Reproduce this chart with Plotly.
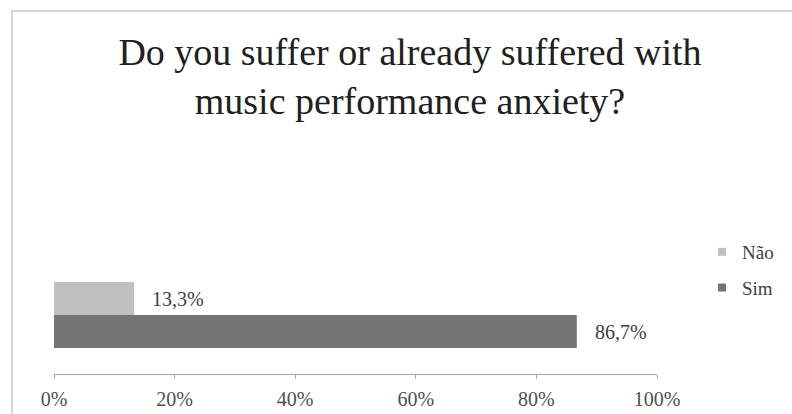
import plotly.graph_objects as go

# Survey answers and their shares (%)
answers = ["Sim", "Não"]
shares = [86.7, 13.3]
colors = ["#747474", "#c0c0c0"]
tick_values = [0, 20, 40, 60, 80, 100]
tick_labels = ["0%", "20%", "40%", "60%", "80%", "100%"]
title_text = "Do you suffer or already suffered with<br>music performance anxiety?"

W, H = 792, 414
L, R, T, B = 54, 135, 256, 40
plot_w = W - L - R
plot_h = H - T - B

serif = "Liberation Serif, Times New Roman, serif"

fig = go.Figure()

# bars: one row per answer, stacked on a numeric axis so they touch
for i, (ans, val, col) in enumerate(zip(answers, shares, colors)):
    fig.add_trace(go.Bar(
        x=[val], y=[i], orientation="h", width=1.0,
        marker=dict(color=col, line=dict(width=0)),
        showlegend=False, hoverinfo="x",
    ))
    fig.add_annotation(
        x=val, y=i, xref="x", yref="y",
        text=f"{val:.1f}%".replace(".", ","),
        showarrow=False, xanchor="left", yanchor="middle", xshift=16,
        font=dict(family=serif, size=20, color="#404040"),
    )

# legend entries with small square swatches, Não listed first
for ans, col in [("Não", colors[1]), ("Sim", colors[0])]:
    fig.add_trace(go.Scatter(
        x=[None], y=[None], mode="markers", name=ans,
        marker=dict(symbol="square", size=8, color=col),
        legendgroup=ans,
    ))

# light frame around the chart area
fig.add_shape(
    type="rect", xref="paper", yref="paper",
    x0=(12 - L) / plot_w, x1=1.6,
    y0=-1.0, y1=(H - B - 11) / plot_h,
    line=dict(color="#d6d6d6", width=2), fillcolor="rgba(0,0,0,0)", layer="below",
)

fig.update_layout(
    width=W, height=H,
    margin=dict(l=L, r=R, t=T, b=B, pad=0, autoexpand=False),
    paper_bgcolor="white", plot_bgcolor="white",
    title=dict(
        text=title_text, x=410 / W, xanchor="center",
        y=1 - 65 / H, yanchor="top", yref="container",
        font=dict(family=serif, size=38, color="#202020"),
        automargin=False,
    ),
    xaxis=dict(
        range=[0, 100], tickvals=tick_values, ticktext=tick_labels,
        showgrid=False, zeroline=False,
        showline=True, linecolor="#a8a8a8", linewidth=1,
        ticks="outside", ticklen=4, tickcolor="#a8a8a8",
        ticklabelstandoff=3, automargin=False,
        tickfont=dict(family=serif, size=20, color="#505050"),
        fixedrange=True,
    ),
    yaxis=dict(
        range=[-1.288, 2.288], visible=False, fixedrange=True, automargin=False,
    ),
    legend=dict(
        x=(702 - L) / plot_w, xanchor="left",
        y=(H - B - 233) / plot_h, yanchor="top",
        font=dict(family=serif, size=19, color="#404040"),
        tracegroupgap=8, bgcolor="rgba(0,0,0,0)",
    ),
    showlegend=True,
)

fig.write_html("out.html")
